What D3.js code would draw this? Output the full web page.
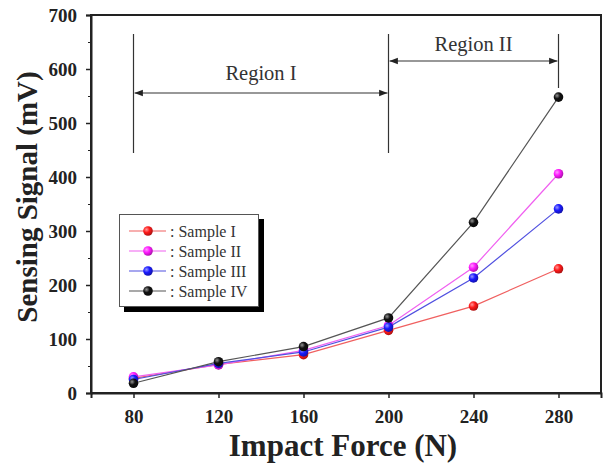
<!DOCTYPE html>
<html>
<head>
<meta charset="utf-8">
<script src="https://cdn.jsdelivr.net/npm/d3@7"></script>
<style>
  body { margin: 0; background: #fff; }
  text { font-family: "Liberation Serif", "Times New Roman", serif; }
</style>
</head>
<body>
<div id="chart"></div>
<script>
let forces = [80, 120, 160, 200, 240, 280];
let sampleI = [27, 53, 71, 116, 161, 230];
let sampleII = [30, 52, 79, 125, 233, 406];
let sampleIII = [25, 55, 76, 122, 213, 341];
let sampleIV = [18, 58, 86, 139, 316, 548];
let seriesNames = [": Sample I", ": Sample II", ": Sample III", ": Sample IV"];
let seriesColors = ["#ff1a1a", "#ff1aff", "#1a1aff", "#111111"];
let lineColors = ["#f06060", "#f060f0", "#5050e0", "#555555"];
let xTicks = [80, 120, 160, 200, 240, 280];
let yTicks = [0, 100, 200, 300, 400, 500, 600, 700];

let allSeries = [sampleI, sampleII, sampleIII, sampleIV];

var w = 605,
	h = 463;

let svg = d3
	.select("#chart")
	.append("svg")
	.attr("width", w)
	.attr("height", h);

let x = d3.scaleLinear().domain([60, 300]).range([91, 601]);
let y = d3.scaleLinear().domain([0, 700]).range([393, 15]);

// sphere-ish markers
let defs = svg.append("defs");
seriesColors.forEach((c, i) => {
	let g = defs
		.append("radialGradient")
		.attr("id", "ball" + i)
		.attr("cx", "0.35")
		.attr("cy", "0.35")
		.attr("r", "0.7");
	g.append("stop").attr("offset", "0%").attr("stop-color", d3.interpolateRgb(c, "#fff")(0.55));
	g.append("stop").attr("offset", "45%").attr("stop-color", c);
	g.append("stop").attr("offset", "100%").attr("stop-color", d3.interpolateRgb(c, "#000")(0.35));
});
let arrow = defs
	.append("marker")
	.attr("id", "arr")
	.attr("viewBox", "0 0 10 10")
	.attr("refX", 10)
	.attr("refY", 5)
	.attr("markerWidth", 7)
	.attr("markerHeight", 7)
	.attr("orient", "auto-start-reverse");
arrow.append("path").attr("d", "M0,1 L10,5 L0,9 Z").attr("fill", "#222");

// frame
svg
	.append("rect")
	.attr("x", x(60))
	.attr("y", y(700))
	.attr("width", x(300) - x(60))
	.attr("height", y(0) - y(700))
	.attr("fill", "none")
	.attr("stroke", "#222")
	.attr("stroke-width", 2);

// axes
let xAxis = svg
	.append("g")
	.attr("transform", "translate(0," + y(0) + ")")
	.call(d3.axisBottom(x).tickValues(xTicks).tickSize(5).tickPadding(12));
let yAxis = svg
	.append("g")
	.attr("transform", "translate(" + x(60) + ",0)")
	.call(d3.axisLeft(y).tickValues(yTicks).tickSize(5).tickPadding(9));
svg
	.append("g")
	.attr("transform", "translate(" + x(60) + ",0)")
	.call(d3.axisLeft(y).tickValues(d3.range(50, 700, 100)).tickSize(3).tickFormat(""))
	.select(".domain")
	.remove();

[xAxis, yAxis].forEach((a) => {
	a.select(".domain").attr("stroke", "#222").attr("stroke-width", 2);
	a.selectAll("line").attr("stroke", "#222").attr("stroke-width", 1.5);
	a.selectAll("text")
		.attr("font-family", "Liberation Serif, serif")
		.attr("font-size", 19)
		.attr("font-weight", "bold")
		.attr("fill", "#222");
});
svg.selectAll("g line").attr("stroke", "#222");

// axis titles
svg
	.append("text")
	.attr("x", 343)
	.attr("y", 456)
	.attr("text-anchor", "middle")
	.attr("font-size", 31)
	.attr("font-weight", "bold")
	.attr("fill", "#222")
	.text("Impact Force (N)");
svg
	.append("text")
	.attr("transform", "translate(37,197) rotate(-90)")
	.attr("text-anchor", "middle")
	.attr("font-size", 29)
	.attr("font-weight", "bold")
	.attr("fill", "#222")
	.text("Sensing Signal (mV)");

// region annotations
let vlines = [
	[80, 34, 153],
	[200, 34, 153],
	[280, 34, 88],
];
svg
	.selectAll(".vline")
	.data(vlines)
	.enter()
	.append("line")
	.attr("x1", (d) => x(d[0]))
	.attr("x2", (d) => x(d[0]))
	.attr("y1", (d) => d[1])
	.attr("y2", (d) => d[2])
	.attr("stroke", "#333")
	.attr("stroke-width", 1.2);

let regions = [
	{ name: "Region I", from: 80, to: 200, ay: 93, ty: 80 },
	{ name: "Region II", from: 200, to: 280, ay: 61, ty: 51 },
];
svg
	.selectAll(".rarrow")
	.data(regions)
	.enter()
	.append("line")
	.attr("x1", (d) => x(d.from) + 1)
	.attr("x2", (d) => x(d.to) - 1)
	.attr("y1", (d) => d.ay)
	.attr("y2", (d) => d.ay)
	.attr("stroke", "#333")
	.attr("stroke-width", 1.2)
	.attr("marker-start", "url(#arr)")
	.attr("marker-end", "url(#arr)");
svg
	.selectAll(".rtext")
	.data(regions)
	.enter()
	.append("text")
	.attr("x", (d) => (x(d.from) + x(d.to)) / 2)
	.attr("y", (d) => d.ty)
	.attr("text-anchor", "middle")
	.attr("font-size", 20.5)
	.attr("fill", "#333")
	.text((d) => d.name);

// series
let line = d3
	.line()
	.x((d, i) => x(forces[i]))
	.y((d) => y(d));

allSeries.forEach((s, k) => {
	svg
		.append("path")
		.datum(s)
		.attr("d", line)
		.attr("fill", "none")
		.attr("stroke", lineColors[k])
		.attr("stroke-width", 1.2);
});
allSeries.forEach((s, k) => {
	svg
		.append("g")
		.selectAll("circle")
		.data(s)
		.enter()
		.append("circle")
		.attr("cx", (d, i) => x(forces[i]))
		.attr("cy", (d) => y(d))
		.attr("r", 4.8)
		.attr("fill", "url(#ball" + k + ")");
});

// legend
let legend = svg.append("g").attr("id", "legend");
legend
	.append("rect")
	.attr("x", 124)
	.attr("y", 219)
	.attr("width", 140)
	.attr("height", 93)
	.attr("fill", "#000");
legend
	.append("rect")
	.attr("x", 119.5)
	.attr("y", 214.5)
	.attr("width", 139)
	.attr("height", 92)
	.attr("fill", "#fff")
	.attr("stroke", "#555")
	.attr("stroke-width", 1);

let rows = legend
	.selectAll(".row")
	.data(seriesNames)
	.enter()
	.append("g")
	.attr("transform", (d, i) => "translate(0," + (231 + i * 20) + ")");
rows
	.append("line")
	.attr("x1", 129)
	.attr("x2", 166)
	.attr("stroke", (d, i) => lineColors[i])
	.attr("stroke-width", 1.2);
rows
	.append("circle")
	.attr("cx", 148)
	.attr("r", 4.8)
	.attr("fill", (d, i) => "url(#ball" + i + ")");
rows
	.append("text")
	.attr("x", 170)
	.attr("y", 5.5)
	.attr("font-size", 16)
	.attr("fill", "#333")
	.text((d) => d);
</script>
</body>
</html>
